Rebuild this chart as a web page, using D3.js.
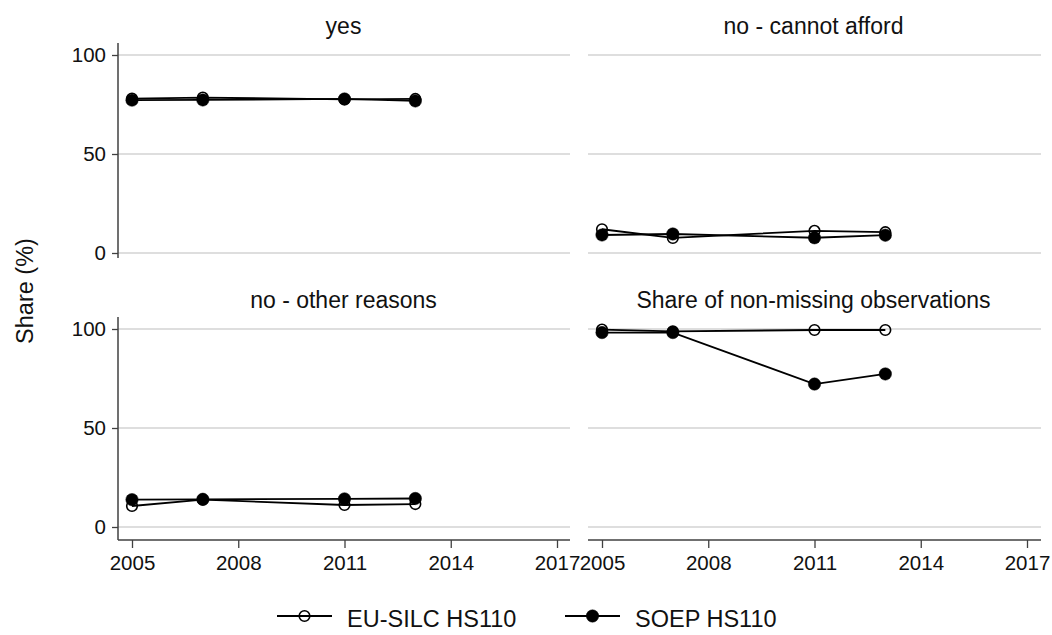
<!DOCTYPE html>
<html>
<head>
<meta charset="utf-8">
<script src="https://cdn.jsdelivr.net/npm/d3@7"></script>
<style>
  html, body { margin: 0; padding: 0; background: #fff; }
  svg { display: block; font-family: "Liberation Sans", Arial, sans-serif; }
</style>
</head>
<body>
<svg id="chart" width="1052" height="635"></svg>
<script>
// ---- data ----
const years = [2005, 2007, 2011, 2013];
const panelTitles = ["yes", "no - cannot afford", "no - other reasons", "Share of non-missing observations"];
const seriesNames = ["EU-SILC HS110", "SOEP HS110"];
const euYes      = [78.0, 78.5, 77.6, 77.8];
const soepYes    = [77.2, 77.3, 77.8, 76.8];
const euCannot   = [12.0, 7.6, 11.2, 10.5];
const soepCannot = [9.1, 9.6, 7.7, 9.0];
const euOther    = [10.6, 13.8, 11.1, 11.6];
const soepOther  = [13.8, 14.0, 14.2, 14.4];
const euShare    = [99.7, 98.8, 99.5, 99.5];
const soepShare  = [98.2, 98.2, 72.2, 77.3];
const xTicks = [2005, 2008, 2011, 2014, 2017];
const yTicks = [0, 50, 100];

const panelData = [
  [euYes, soepYes],
  [euCannot, soepCannot],
  [euOther, soepOther],
  [euShare, soepShare]
];

const svg = d3.select("#chart");
const font = "'Liberation Sans', Arial, sans-serif";

// panel geometry
const panelW = 452, colX = [118, 588];
const rowTop = [43, 317];
const plotH = 215;

const axisColor = "#404040";
const gridColor = "#bdbdbd";

panelTitles.forEach((title, i) => {
  const col = i % 2, row = Math.floor(i / 2);
  const left = colX[col], top = rowTop[row];
  const g = svg.append("g");

  const x = d3.scaleLinear().domain([2005, 2017]).range([left + 14, left + 14 + 425]);
  const y = d3.scaleLinear().domain([0, 100]).range([top + 210, top + 12]);

  // gridlines
  g.selectAll("line.grid").data(yTicks).enter().append("line")
    .attr("x1", left).attr("x2", left + (col === 0 ? panelW : panelW + 1))
    .attr("y1", d => y(d)).attr("y2", d => y(d))
    .attr("stroke", gridColor).attr("stroke-width", 1);

  // title
  g.append("text")
    .attr("x", (x(2005) + x(2017)) / 2 - 1)
    .attr("y", top - 9)
    .attr("text-anchor", "middle")
    .attr("font-size", 23)
    .attr("fill", "#111")
    .text(title);

  // y axis on left column
  if (col === 0) {
    const yAx = d3.axisLeft(y).tickValues(yTicks).tickSize(6).tickPadding(6).tickFormat(d3.format("d"));
    const ya = g.append("g").attr("transform", `translate(${left},0)`).call(yAx);
    ya.select(".domain").remove();
    ya.selectAll(".tick line").attr("stroke", axisColor).attr("stroke-width", 1.3);
    ya.selectAll(".tick text").attr("font-size", 20.5).attr("font-family", font).attr("fill", "#111");
    g.append("line")
      .attr("x1", left).attr("x2", left)
      .attr("y1", top).attr("y2", row === 0 ? top + plotH : 540)
      .attr("stroke", axisColor).attr("stroke-width", 1.5);
  }

  // x axis on bottom row
  if (row === 1) {
    const xAx = d3.axisBottom(x).tickValues(xTicks).tickSize(8).tickPadding(7).tickFormat(d3.format("d"));
    const xa = g.append("g").attr("transform", `translate(0,540)`).call(xAx);
    xa.select(".domain").remove();
    xa.selectAll(".tick line").attr("stroke", axisColor).attr("stroke-width", 1.3);
    xa.selectAll(".tick text").attr("font-size", 20.5).attr("font-family", font).attr("fill", "#111");
    g.append("line")
      .attr("x1", left).attr("x2", left + (col === 0 ? panelW : panelW + 1))
      .attr("y1", 540).attr("y2", 540)
      .attr("stroke", axisColor).attr("stroke-width", 1.5);
  }

  // series
  const line = d3.line().x((d, k) => x(years[k])).y(d => y(d));
  panelData[i].forEach((vals, s) => {
    g.append("path").datum(vals)
      .attr("d", line)
      .attr("fill", "none")
      .attr("stroke", "#000")
      .attr("stroke-width", 1.8);
    g.selectAll(null).data(vals).enter().append("circle")
      .attr("cx", (d, k) => x(years[k]))
      .attr("cy", d => y(d))
      .attr("r", s === 0 ? 5.3 : 6.2)
      .attr("fill", s === 0 ? "none" : "#000")
      .attr("stroke", "#000")
      .attr("stroke-width", s === 0 ? 1.6 : 0.5);
  });
});

// y-axis title
svg.append("text")
  .attr("transform", "translate(33,291) rotate(-90)")
  .attr("text-anchor", "middle")
  .attr("font-size", 23.5)
  .attr("fill", "#111")
  .text("Share (%)");

// legend
const legendItems = [
  { name: seriesNames[0], x1: 277, x2: 332, tx: 347, filled: false },
  { name: seriesNames[1], x1: 565, x2: 620, tx: 635, filled: true }
];
const ly = 616;
legendItems.forEach(it => {
  svg.append("line")
    .attr("x1", it.x1).attr("x2", it.x2).attr("y1", ly).attr("y2", ly)
    .attr("stroke", "#000").attr("stroke-width", 1.8);
  svg.append("circle")
    .attr("cx", (it.x1 + it.x2) / 2).attr("cy", ly)
    .attr("r", it.filled ? 6.2 : 5.3)
    .attr("fill", it.filled ? "#000" : "none")
    .attr("stroke", "#000").attr("stroke-width", it.filled ? 0.5 : 1.6);
  svg.append("text")
    .attr("x", it.tx).attr("y", ly + 11)
    .attr("font-size", 23.5)
    .attr("fill", "#111")
    .text(it.name);
});
</script>
</body>
</html>
